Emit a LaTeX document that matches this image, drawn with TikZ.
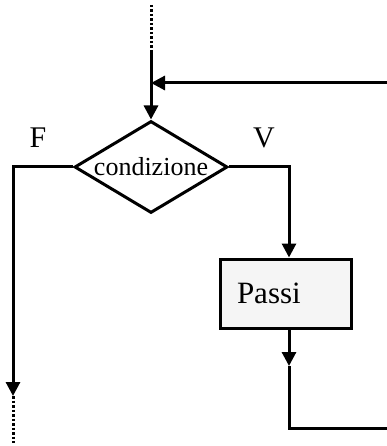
\documentclass[tikz,border=0pt]{standalone}
\usepackage{fontspec}
\setmainfont{Liberation Serif}
\usetikzlibrary{shapes.geometric,arrows.meta}
\begin{document}
\begin{tikzpicture}[x=1pt,y=-1pt,
  conn/.style={line width=3pt,-{Triangle[length=14pt,width=14pt]}},
  plain/.style={line width=3pt},
  dots/.style={line width=3pt,dash pattern=on 2.5pt off 2pt},
  decision/.style={diamond,draw,line width=3pt,inner sep=0pt,aspect=1.66,
    minimum width=153pt,minimum height=92pt,font=\fontsize{26}{28}\selectfont},
  stepbox/.style={rectangle,draw,line width=3pt,fill=black!4,minimum width=131pt,
    minimum height=69pt,text width=97pt,align=left,inner xsep=17pt,
    font=\fontsize{31}{34}\selectfont},
  lab/.style={font=\fontsize{30}{32}\selectfont,inner sep=0pt}]
\useasboundingbox (0,0) rectangle (387,446);
\node[decision] (d) at (151,167) {condizione};
\node[stepbox] (p) at (285.5,293.5) {Passi};
\node[lab] (F) at (38,138) {F};
\node[lab] (V) at (264,138) {V};
\coordinate (top) at (151,5);
\coordinate (topS) at (151,52);
\coordinate (back) at (387,83);
\coordinate (join) at (151,83);
\coordinate (fl) at (13,167);
\coordinate (fend) at (13,396);
\coordinate (fdot) at (13,443);
\coordinate (vr) at (289,167);
\coordinate (pmid) at (289,366);
\coordinate (bot) at (289,428);
\coordinate (botR) at (387,428);
\draw[dots] (top) -- (topS);
\draw[conn] (topS) -- (d.north);
\draw[conn] (back) -- (join);
\draw[conn] (d.west) -- (fl) -- (fend);
\draw[dots] (fend) -- (fdot);
\draw[conn] (d.east) -- (vr) -- (vr |- p.north);
\draw[conn] (vr |- p.south) -- (pmid);
\draw[plain] (pmid) -- (bot) -- (botR);
\end{tikzpicture}
\end{document}
